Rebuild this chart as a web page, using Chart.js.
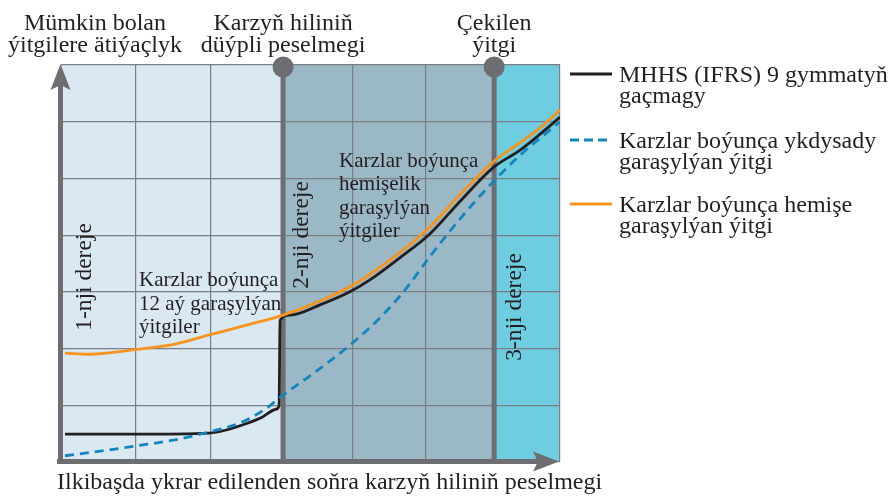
<!DOCTYPE html>
<html>
<head>
<meta charset="utf-8">
<script src="https://cdn.jsdelivr.net/npm/chart.js@4/dist/chart.umd.min.js"></script>
<style>
  html, body { margin: 0; padding: 0; background: #ffffff; }
  #wrap { width: 889px; height: 496px; }
</style>
</head>
<body>
<div id="wrap"><canvas id="myChart" width="889" height="496"></canvas></div>
<script>
/*** Data ***/
// x: share of the horizontal axis (0..100), y: loss level in grid steps (0..7)
const blackX = [0.8, 14.8, 29.7, 32.9, 36.9, 40.3, 43.1, 43.7, 43.9, 45.9, 51.9, 57.9, 61.9, 67.9, 73.9, 79.9, 86.6, 92.0, 96.0, 100];
const blackY = [0.49, 0.49, 0.51, 0.56, 0.67, 0.79, 0.93, 0.99, 2.50, 2.59, 2.77, 3.00, 3.21, 3.60, 4.02, 4.59, 5.19, 5.50, 5.78, 6.08];

const blueX = [0.8, 7.8, 14.8, 22.8, 29.7, 35.9, 40.9, 44.5, 49.9, 57.9, 63.9, 68.9, 73.9, 80.0, 86.6, 92.0, 96.0, 100];
const blueY = [0.11, 0.19, 0.28, 0.39, 0.53, 0.69, 0.93, 1.18, 1.52, 2.06, 2.54, 3.03, 3.62, 4.29, 4.94, 5.41, 5.71, 6.00];

const orangeX = [0.8, 5.8, 14.8, 22.8, 29.7, 37.9, 44.5, 51.9, 58.5, 65.9, 73.3, 79.9, 86.6, 92.0, 96.0, 100];
const orangeY = [1.92, 1.90, 1.98, 2.08, 2.24, 2.43, 2.59, 2.84, 3.12, 3.56, 4.09, 4.71, 5.29, 5.63, 5.89, 6.21];

const seriesNames = [
    ["MHHS (IFRS) 9 gymmatyň", "gaçmagy"],
    ["Karzlar boýunça ykdysady", "garaşylýan ýitgi"],
    ["Karzlar boýunça hemişe", "garaşylýan ýitgi"]
];

const gridX = [0, 15.0, 29.9, 44.5, 58.5, 73.1, 86.8, 100];
const stageBounds = [44.5, 86.8];
const stageNames = ["1-nji dereje", "2-nji dereje", "3-nji dereje"];
const topLabels = [
    ["Mümkin bolan", "ýitgilere ätiýaçlyk"],
    ["Karzyň hiliniň", "düýpli peselmegi"],
    ["Çekilen", "ýitgi"]
];
const noteStage1 = ["Karzlar boýunça", "12 aý garaşylýan", "ýitgiler"];
const noteStage2 = ["Karzlar boýunça", "hemişelik", "garaşylýan", "ýitgiler"];
const xTitle = "Ilkibaşda ykrar edilenden soňra karzyň hiliniň peselmegi";

/*** Styles ***/
const FONT = "'Liberation Serif', 'Times New Roman', serif";
const TEXT_COLOR = "#231f20";
const AXIS_COLOR = "#6d6e71";
const GRID_COLOR = "#7b7e82";
const STAGE_COLORS = ["#d9e8f1", "#9bb8c7", "#6ecde0"];
const LINE_COLORS = ["#231f20", "#1486be", "#f7941d"];

function toPoints(xs, ys) {
    return xs.map((x, i) => ({ x: x, y: ys[i] }));
}

/*** Plugins ***/
const stagePlugin = {
    id: "stages",
    beforeDraw(chart) {
        const { ctx, chartArea: a, scales } = chart;
        const edges = [scales.x.min].concat(stageBounds, [scales.x.max]);
        ctx.save();
        for (let i = 0; i < 3; i++) {
            const x0 = scales.x.getPixelForValue(edges[i]);
            const x1 = scales.x.getPixelForValue(edges[i + 1]);
            ctx.fillStyle = STAGE_COLORS[i];
            ctx.fillRect(x0, a.top, x1 - x0, a.bottom - a.top);
        }
        ctx.restore();
    },
    beforeDatasetsDraw(chart) {
        const { ctx, chartArea: a, scales } = chart;
        ctx.save();
        ctx.fillStyle = AXIS_COLOR;
        // stage dividers with dots
        stageBounds.forEach((v) => {
            const x = scales.x.getPixelForValue(v);
            ctx.fillRect(x - 2.5, a.top + 2, 5, a.bottom - a.top - 2);
            ctx.beginPath();
            ctx.arc(x, a.top + 2, 10.5, 0, Math.PI * 2);
            ctx.fill();
        });
        // y axis arrow
        const ax = a.left - 0.5;
        ctx.fillRect(ax - 2.5, a.top + 20, 5, a.bottom - a.top - 18);
        ctx.beginPath();
        ctx.moveTo(ax, a.top - 1);
        ctx.lineTo(ax + 10, a.top + 25);
        ctx.lineTo(ax, a.top + 20);
        ctx.lineTo(ax - 10, a.top + 25);
        ctx.closePath();
        ctx.fill();
        // x axis arrow
        const ay = a.bottom - 0.5;
        ctx.fillRect(a.left - 4, ay - 2.5, a.right - a.left - 18, 5);
        ctx.beginPath();
        ctx.moveTo(a.right - 1, ay);
        ctx.lineTo(a.right - 27, ay - 10);
        ctx.lineTo(a.right - 22, ay);
        ctx.lineTo(a.right - 27, ay + 10);
        ctx.closePath();
        ctx.fill();
        ctx.restore();
    },
    afterDraw(chart) {
        const { ctx, scales } = chart;
        const b1 = scales.x.getPixelForValue(stageBounds[0]);
        const b2 = scales.x.getPixelForValue(stageBounds[1]);
        ctx.save();
        ctx.fillStyle = TEXT_COLOR;
        ctx.textBaseline = "alphabetic";

        // headers over the plot
        ctx.font = "24px " + FONT;
        ctx.textAlign = "center";
        const headX = [95, b1, b2];
        topLabels.forEach((lines, i) => {
            lines.forEach((t, j) => ctx.fillText(t, headX[i], 30 + j * 22));
        });

        // x axis title
        ctx.textAlign = "left";
        ctx.fillText(xTitle, 57, 489);

        // notes inside plot
        ctx.font = "21px " + FONT;
        noteStage1.forEach((t, j) => ctx.fillText(t, 139, 286 + j * 23.5));
        noteStage2.forEach((t, j) => ctx.fillText(t, 339, 167 + j * 23.3));

        // rotated stage names
        ctx.font = "23.5px " + FONT;
        const stagePos = [[85, 277], [302, 235], [515, 307]];
        ctx.textAlign = "center";
        ctx.textBaseline = "middle";
        stageNames.forEach((t, i) => {
            ctx.save();
            ctx.translate(stagePos[i][0], stagePos[i][1]);
            ctx.rotate(-Math.PI / 2);
            ctx.fillText(t, 0, 0);
            ctx.restore();
        });

        // legend
        ctx.textAlign = "left";
        ctx.textBaseline = "alphabetic";
        ctx.font = "24px " + FONT;
        const rowBase = [82, 148, 212];
        seriesNames.forEach((lines, i) => {
            const y = rowBase[i] - 8;
            ctx.beginPath();
            ctx.lineWidth = 2.8;
            ctx.strokeStyle = LINE_COLORS[i];
            ctx.setLineDash(i === 1 ? [9, 5] : []);
            ctx.moveTo(570, y);
            ctx.lineTo(612, y);
            ctx.stroke();
            ctx.setLineDash([]);
            lines.forEach((t, j) => ctx.fillText(t, 619, rowBase[i] + j * 21));
        });
        ctx.restore();
    }
};

/*** Chart ***/
function renderChart() {
    const gridOpts = { color: GRID_COLOR, lineWidth: 1.2, drawTicks: false };
    const ctx = document.getElementById("myChart").getContext("2d");
    window.myChart = new Chart(ctx, {
        type: "line",
        data: {
            datasets: [
                {
                    label: seriesNames[2].join(" "),
                    data: toPoints(orangeX, orangeY),
                    borderColor: LINE_COLORS[2],
                    borderWidth: 2.8,
                    cubicInterpolationMode: "monotone"
                },
                {
                    label: seriesNames[1].join(" "),
                    data: toPoints(blueX, blueY),
                    borderColor: LINE_COLORS[1],
                    borderWidth: 2.8,
                    borderDash: [9, 6],
                    cubicInterpolationMode: "monotone"
                },
                {
                    label: seriesNames[0].join(" "),
                    data: toPoints(blackX, blackY),
                    borderColor: LINE_COLORS[0],
                    borderWidth: 2.8,
                    cubicInterpolationMode: "monotone"
                }
            ]
        },
        options: {
            responsive: false,
            animation: false,
            devicePixelRatio: 1,
            layout: { padding: { left: 61, right: 329, top: 65, bottom: 34 } },
            elements: { point: { radius: 0 } },
            plugins: { legend: { display: false }, tooltip: { enabled: false } },
            scales: {
                x: {
                    type: "linear",
                    min: 0,
                    max: 100,
                    afterBuildTicks: (axis) => { axis.ticks = gridX.map((v) => ({ value: v })); },
                    grid: gridOpts,
                    ticks: { display: false },
                    border: { display: false }
                },
                y: {
                    type: "linear",
                    min: 0,
                    max: 7,
                    ticks: { display: false, stepSize: 1 },
                    grid: gridOpts,
                    border: { display: false }
                }
            }
        },
        plugins: [stagePlugin]
    });
}
renderChart();
</script>
</body>
</html>
